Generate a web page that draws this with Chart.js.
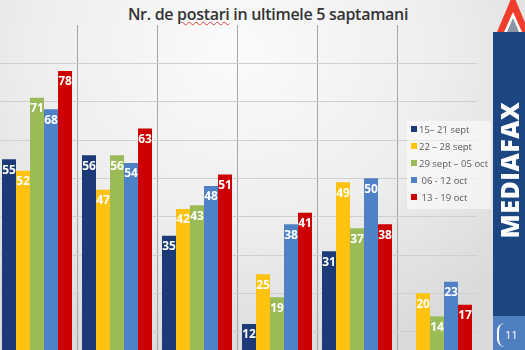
<!DOCTYPE html>
<html>
<head>
<meta charset="utf-8"/>
<style type="text/css">
  html, body {
    margin: 0;
    padding: 0;
    width: 525px;
    height: 350px;
    overflow: hidden;
  }
  body {
    position: relative;
    background: radial-gradient(ellipse 70% 90% at 45% 15%, #fbfbfb 0%, #eeeeee 55%, #dadada 100%);
    font-family: "Open Sans", sans-serif;
  }
  #title {
    position: absolute;
    left: 0;
    width: 536px;
    top: 3px;
    text-align: center;
    font-size: 16px;
    font-weight: 600;
    color: #333333;
    letter-spacing: -0.3px;
  }
  #title span {
    text-decoration: underline wavy #e04040;
    text-decoration-thickness: 1px;
    text-underline-offset: 1px;
  }
  #wrap {
    position: absolute;
    left: -3px;
    top: 25px;
    width: 480px;
    height: 345px;
  }
  #legend {
    position: absolute;
    left: 407px;
    top: 121px;
    width: 84px;
    height: 88px;
    background: rgba(255, 255, 255, 0.55);
  }
  #legend div {
    position: absolute;
    left: 4px;
    font-size: 9.5px;
    color: #595959;
    white-space: nowrap;
    line-height: 12px;
  }
  #legend i {
    display: inline-block;
    width: 6px;
    height: 6px;
    margin-right: 2px;
    vertical-align: 1px;
  }
  #banner {
    position: absolute;
    left: 493px;
    top: 32px;
    width: 32px;
    height: 284px;
    background: #1c4682;
  }
  #banner div {
    position: absolute;
    left: 16px;
    top: 138px;
    transform: translate(-50%, -50%) rotate(-90deg);
    color: #ffffff;
    font-weight: 800;
    font-size: 25px;
    letter-spacing: 0.5px;
    white-space: nowrap;
  }
  #page {
    position: absolute;
    left: 493px;
    top: 316px;
    width: 32px;
    height: 34px;
    background: #4f7fc0;
  }
  #page div {
    position: absolute;
    left: 4px;
    top: 7px;
    height: 24px;
    width: 30px;
    border-left: 2px solid #ffffff;
    border-radius: 8px 0 0 8px;
    color: #ffffff;
    font-size: 11px;
    line-height: 24px;
    padding-left: 6px;
    box-sizing: border-box;
  }
  #logo {
    position: absolute;
    left: 493px;
    top: 0;
  }
</style>
</head>
<body>
  <div id="title">Nr. de <span>postari</span> in ultimele 5 saptamani</div>
  <div id="wrap"><canvas id="chart"></canvas></div>
  <div id="legend"></div>
  <svg id="logo" width="32" height="32" viewBox="0 0 32 32">
    <polygon points="20,-6 36,32 4,32" fill="#ee3d2a"/>
    <polygon points="20,12 29,32 11,32" fill="#ffffff"/>
    <polygon points="20,18 26,32 14,32" fill="#8a96a6"/>
  </svg>
  <div id="banner"><div>MEDIAFAX</div></div>
  <div id="page"><div>11</div></div>

  <script src="https://cdn.jsdelivr.net/npm/chart.js@4.4.1/dist/chart.umd.min.js"></script>
  <script>
    // weekly post counts, one array per week, six groups each
    var groups = ['', '', '', '', '', ''];
    var weeks = ['15\u2013 21 sept', '22 \u2013 28 sept', '29 sept \u2013 05 oct', ' 06 - 12 oct', ' 13 - 19 oct'];
    var week1 = [55, 56, 35, 12, 31, null];
    var week2 = [52, 47, 42, 25, 49, 20];
    var week3 = [71, 56, 43, 19, 37, 14];
    var week4 = [68, 54, 48, 38, 50, 23];
    var week5 = [78, 63, 51, 41, 38, 17];
    var colors = ['#1d3a78', '#ffc20e', '#9bbb59', '#4f81c7', '#cc0000'];

    var series = [week1, week2, week3, week4, week5];

    // white value labels just inside the top of each bar
    var barValues = {
      id: 'barValues',
      afterDatasetsDraw: function(chart) {
        var ctx = chart.ctx;
        ctx.save();
        ctx.font = 'bold 12px "Open Sans"';
        ctx.textAlign = 'center';
        ctx.textBaseline = 'middle';
        ctx.fillStyle = '#ffffff';
        chart.data.datasets.forEach(function(ds, i) {
          var meta = chart.getDatasetMeta(i);
          meta.data.forEach(function(bar, j) {
            var v = ds.data[j];
            if (v == null) return;
            ctx.fillText(String(v), bar.x, bar.y + 11);
          });
        });
        ctx.restore();
      }
    };

    var legend = document.getElementById('legend');
    weeks.forEach(function(w, i) {
      var d = document.createElement('div');
      d.style.top = (3 + i * 17) + 'px';
      d.innerHTML = '<i style="background:' + colors[i] + '"></i>' + w;
      legend.appendChild(d);
    });

    new Chart(document.getElementById('chart'), {
      type: 'bar',
      data: {
        labels: groups,
        datasets: series.map(function(s, i) {
          return {
            label: weeks[i],
            data: s,
            backgroundColor: colors[i],
            borderWidth: 0,
            barPercentage: 1,
            categoryPercentage: 0.875
          };
        })
      },
      options: {
        responsive: true,
        maintainAspectRatio: false,
        animation: false,
        layout: { padding: 0 },
        plugins: {
          legend: { display: false },
          tooltip: { enabled: false }
        },
        scales: {
          x: {
            grid: { offset: true, color: '#a6a6a6', drawTicks: false },
            border: { display: false },
            ticks: { display: false }
          },
          y: {
            min: 0,
            max: 90,
            grid: {
              drawTicks: false,
              color: function(c) { return c.tick && c.tick.value === 90 ? 'rgba(0,0,0,0)' : '#cfcfcf'; }
            },
            border: { display: false },
            ticks: { display: false, stepSize: 10 }
          }
        }
      },
      plugins: [barValues]
    });
  </script>
</body>
</html>
